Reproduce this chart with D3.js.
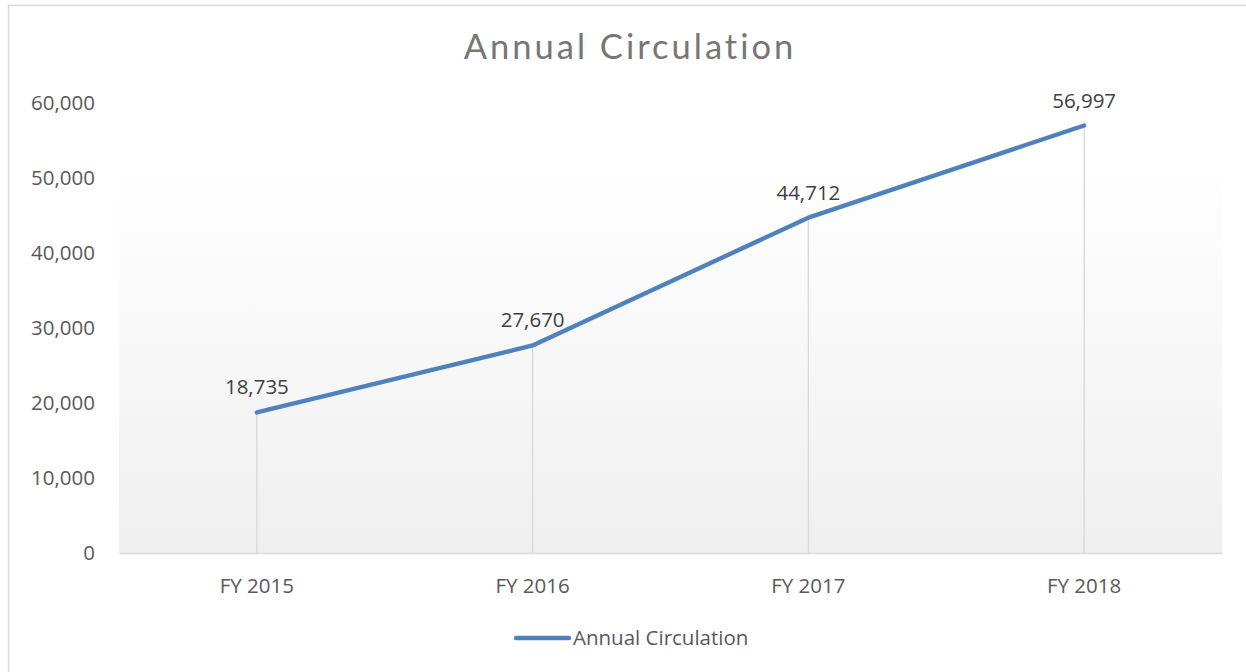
<!DOCTYPE html>
<html><head><meta charset="utf-8">
<script src="https://cdn.jsdelivr.net/npm/d3@7"></script>
<style>html,body{margin:0;padding:0;background:#fff;}svg{display:block;}</style>
</head><body>
<script>
const categories = ["FY 2015", "FY 2016", "FY 2017", "FY 2018"];
const circulation = [18735, 27670, 44712, 56997];
const yTicks = [0, 10000, 20000, 30000, 40000, 50000, 60000];
const seriesName = "Annual Circulation";
const title = "Annual Circulation";

const W = 1246, H = 672;
const svg = d3.select("body").append("svg").attr("width", W).attr("height", H);
const FONT = "'Open Sans', sans-serif";

// outer border
svg.append("rect").attr("x", 8.5).attr("y", 5.5).attr("width", W).attr("height", H)
  .attr("fill", "#fff").attr("stroke", "#d9d9d9").attr("stroke-width", 1.5);

const x = d3.scaleBand().domain(categories).range([119, 1222]);
const y = d3.scaleLinear().domain([0, 60000]).range([553, 103]);

const defs = svg.append("defs");
const grad = defs.append("linearGradient").attr("id", "bg").attr("x1", 0).attr("y1", 0).attr("x2", 0).attr("y2", 1);
grad.append("stop").attr("offset", "0%").attr("stop-color", "#ffffff");
grad.append("stop").attr("offset", "100%").attr("stop-color", "#efefef");

svg.append("rect").attr("x", 119).attr("y", 163).attr("width", 1103).attr("height", 553 - 163)
  .attr("fill", "url(#bg)");

svg.append("text").attr("x", 630).attr("y", 59).attr("text-anchor", "middle")
  .attr("font-family", "Lato, 'Open Sans', sans-serif").attr("font-size", 34.5)
  .attr("fill", "#767676").attr("letter-spacing", 3).text(title);

// y axis labels
const yAxis = d3.axisLeft(y).tickValues(yTicks).tickSize(0).tickPadding(0)
  .tickFormat(d3.format(","));
const gy = svg.append("g").attr("transform", "translate(95,0)").call(yAxis);
gy.select(".domain").remove();
gy.selectAll("text").attr("font-family", FONT).attr("font-size", 20.5).attr("fill", "#595959");

// x axis
const xAxis = d3.axisBottom(x).tickSize(0).tickPadding(0);
const gx = svg.append("g").attr("transform", "translate(0,553)").call(xAxis);
gx.select(".domain").attr("stroke", "#d9d9d9").attr("stroke-width", 1.5);
gx.selectAll("text").attr("dy", 0).attr("y", 40).attr("font-family", FONT).attr("font-size", 20.5).attr("fill", "#595959");

const cx = d => x(d) + x.bandwidth() / 2;

// drop lines
svg.append("g").selectAll("line").data(categories).join("line")
  .attr("x1", (d) => cx(d)).attr("x2", (d) => cx(d))
  .attr("y1", (d, i) => y(circulation[i])).attr("y2", y(0))
  .attr("stroke", "#d9d9d9").attr("stroke-width", 1.4);

const line = d3.line().x((d, i) => cx(categories[i])).y(d => y(d));
svg.append("path").datum(circulation).attr("d", line)
  .attr("fill", "none").attr("stroke", "#4f81bd").attr("stroke-width", 4.4)
  .attr("stroke-linecap", "round").attr("stroke-linejoin", "round");

// data labels
svg.append("g").selectAll("text").data(circulation).join("text")
  .attr("x", (d, i) => cx(categories[i])).attr("y", d => y(d) - 18)
  .attr("text-anchor", "middle").attr("font-family", FONT).attr("font-size", 20.5)
  .attr("fill", "#404040").text(d => d3.format(",")(d));

// legend
svg.append("line").attr("x1", 516).attr("x2", 569).attr("y1", 638).attr("y2", 638)
  .attr("stroke", "#4f81bd").attr("stroke-width", 4.4).attr("stroke-linecap", "round");
svg.append("text").attr("x", 573).attr("y", 645).attr("font-family", FONT)
  .attr("font-size", 20.5).attr("fill", "#595959").text(seriesName);
</script>
</body></html>
